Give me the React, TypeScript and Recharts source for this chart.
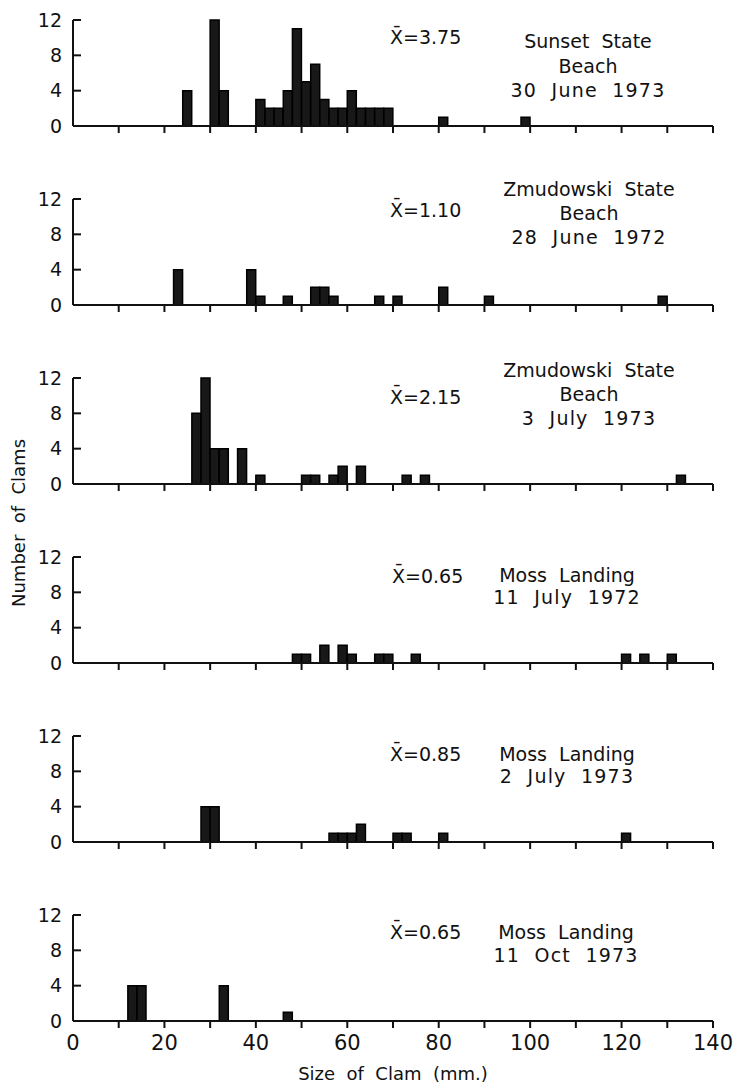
import React from 'react';
import { BarChart, Bar, XAxis, YAxis } from 'recharts';

// ---------- DATA ----------
// 2 mm size classes (bin start, mm)
const binStarts: number[] = Array.from({ length: 70 }, (_, i) => i * 2);
const xTicks = [0, 10, 20, 30, 40, 50, 60, 70, 80, 90, 100, 110, 120, 130, 140];
const xLabelTicks = [0, 20, 40, 60, 80, 100, 120, 140];
const yTicks = [0, 4, 8, 12];

// [from mm, to mm, number of clams]
const sunset1973: [number, number, number][] = [
  [24, 26, 4], [30, 32, 12], [32, 34, 4], [40, 42, 3], [42, 46, 2], [46, 48, 4],
  [48, 50, 11], [50, 52, 5], [52, 54, 7], [54, 56, 3], [56, 60, 2], [60, 62, 4],
  [62, 70, 2], [80, 82, 1], [98, 100, 1],
];
const zmudowski1972: [number, number, number][] = [
  [22, 24, 4], [38, 40, 4], [40, 42, 1], [46, 48, 1], [52, 56, 2], [56, 58, 1],
  [66, 68, 1], [70, 72, 1], [80, 82, 2], [90, 92, 1], [128, 130, 1],
];
const zmudowski1973: [number, number, number][] = [
  [26, 28, 8], [28, 30, 12], [30, 34, 4], [36, 38, 4], [40, 42, 1], [50, 54, 1],
  [56, 58, 1], [58, 60, 2], [62, 64, 2], [72, 74, 1], [76, 78, 1], [132, 134, 1],
];
const mossJul1972: [number, number, number][] = [
  [48, 52, 1], [54, 56, 2], [58, 60, 2], [60, 62, 1], [66, 70, 1], [74, 76, 1],
  [120, 122, 1], [124, 126, 1], [130, 132, 1],
];
const mossJul1973: [number, number, number][] = [
  [28, 32, 4], [56, 62, 1], [62, 64, 2], [70, 74, 1], [80, 82, 1], [120, 122, 1],
];
const mossOct1973: [number, number, number][] = [
  [12, 16, 4], [32, 34, 4], [46, 48, 1],
];

const panelRuns = [sunset1973, zmudowski1972, zmudowski1973, mossJul1972, mossJul1973, mossOct1973];
const meanLabels = ['3.75', '1.10', '2.15', '0.65', '0.85', '0.65'];
const siteLines: string[][] = [
  ['Sunset  State', 'Beach', '30  June  1973'],
  ['Zmudowski  State', 'Beach', '28  June  1972'],
  ['Zmudowski  State', 'Beach', '3  July  1973'],
  ['Moss  Landing', '11  July  1972'],
  ['Moss  Landing', '2  July  1973'],
  ['Moss  Landing', '11  Oct  1973'],
];

// ---------- LAYOUT ----------
const W = 737;
const PANEL_H = 179;
const TOP = 20;
const PLOT_H = 106;
const LEFT = 73;
const RIGHT = 24;
const BASE_Y = TOP + PLOT_H;
const FONT = "'DejaVu Sans', sans-serif";
const INK = '#111';

const meanPos: [number, number][] = [
  [390, 37.5], [390, 210], [390, 397], [392, 576], [390, 754], [390, 932],
];
const titleCX = [588, 589, 589, 567, 567, 566];
const titleYs: number[][] = [
  [40.8, 65.8, 90], [189, 213, 237.5], [370, 394, 418],
  [575.5, 597.5], [754, 776], [932, 955],
];

function buildRows(runs: [number, number, number][]) {
  return binStarts.map((s) => {
    const r = runs.find(([a, b]) => s >= a && s < b);
    return { bin: String(s), mid: s + 1, n: r ? r[2] : null };
  });
}

const XTick = (props: any) => {
  const { x, payload, showLabel } = props;
  const v = payload.value as number;
  return (
    <g>
      {v > 0 && <line x1={x} x2={x} y1={BASE_Y} y2={BASE_Y + 7} stroke={INK} strokeWidth={2} />}
      {showLabel && xLabelTicks.includes(v) && (
        <text x={x} y={BASE_Y + 14 + 15.3} textAnchor="middle" fontSize={21} fontFamily={FONT} fill={INK}>
          {v}
        </text>
      )}
    </g>
  );
};

function Panel({ runs, last }: { runs: [number, number, number][]; last: boolean }) {
  const rows = buildRows(runs);
  const h = last ? 188 : PANEL_H;
  return (
    <BarChart
      width={W}
      height={h}
      data={rows}
      margin={{ top: TOP, right: RIGHT, bottom: h - TOP - PLOT_H - 30, left: 0 }}
      barCategoryGap={0}
      barGap={0}
    >
      <XAxis xAxisId="cat" dataKey="bin" type="category" hide height={0} />
      <XAxis
        xAxisId="num"
        dataKey="mid"
        type="number"
        domain={[0, 140]}
        allowDataOverflow
        ticks={xTicks}
        interval={0}
        height={30}
        tickLine={false}
        axisLine={{ stroke: INK, strokeWidth: 2 }}
        tick={(p: any) => <XTick {...p} showLabel={last} />}
      />
      <YAxis
        type="number"
        domain={[0, 12]}
        ticks={yTicks}
        interval={0}
        width={LEFT}
        stroke={INK}
        axisLine={{ stroke: INK, strokeWidth: 2 }}
        tickLine={{ stroke: INK, strokeWidth: 2 }}
        tickSize={-8}
        tickMargin={19}
        tick={{ fontSize: 19, fontFamily: FONT, fill: INK }}
      />
      <Bar xAxisId="cat" dataKey="n" fill="#181818" stroke="#000" strokeWidth={1.5} isAnimationActive={false} />
    </BarChart>
  );
}

export default function App() {
  const fsT = 19;
  const off = 0.365 * fsT;
  return (
    <div style={{ position: 'absolute', left: 0, top: 0, width: W, height: 1083, background: '#fff', overflow: 'hidden' }}>
      {panelRuns.map((runs, i) => (
        <div key={i} style={{ position: 'absolute', left: 0, top: i * PANEL_H }}>
          <Panel runs={runs} last={i === panelRuns.length - 1} />
        </div>
      ))}
      <svg width={W} height={1083} style={{ position: 'absolute', left: 0, top: 0, pointerEvents: 'none' }}>
        <g fontFamily={FONT} fill={INK} style={{ whiteSpace: 'pre' }}>
          {meanLabels.map((m, i) => (
            <text key={'m' + i} x={meanPos[i][0]} y={meanPos[i][1] + off} fontSize={fsT} xmlSpace="preserve">
              {'X\u0304=' + m}
            </text>
          ))}
          {siteLines.map((lines, i) =>
            lines.map((ln, j) => (
              <text
                key={'t' + i + '-' + j}
                x={titleCX[i]}
                y={titleYs[i][j] + off}
                fontSize={fsT}
                textAnchor="middle"
                xmlSpace="preserve"
                letterSpacing={/\d/.test(ln) ? 1.2 : 0}
              >
                {ln}
              </text>
            ))
          )}
          <text
            x={18}
            y={523 + 0.365 * 18}
            fontSize={18}
            textAnchor="middle"
            transform="rotate(-90 18 523)"
            xmlSpace="preserve"
          >
            {'Number  of  Clams'}
          </text>
          <text x={393} y={1073 + 0.365 * 18} fontSize={18} textAnchor="middle" xmlSpace="preserve">
            {'Size  of  Clam  (mm.)'}
          </text>
        </g>
      </svg>
    </div>
  );
}
